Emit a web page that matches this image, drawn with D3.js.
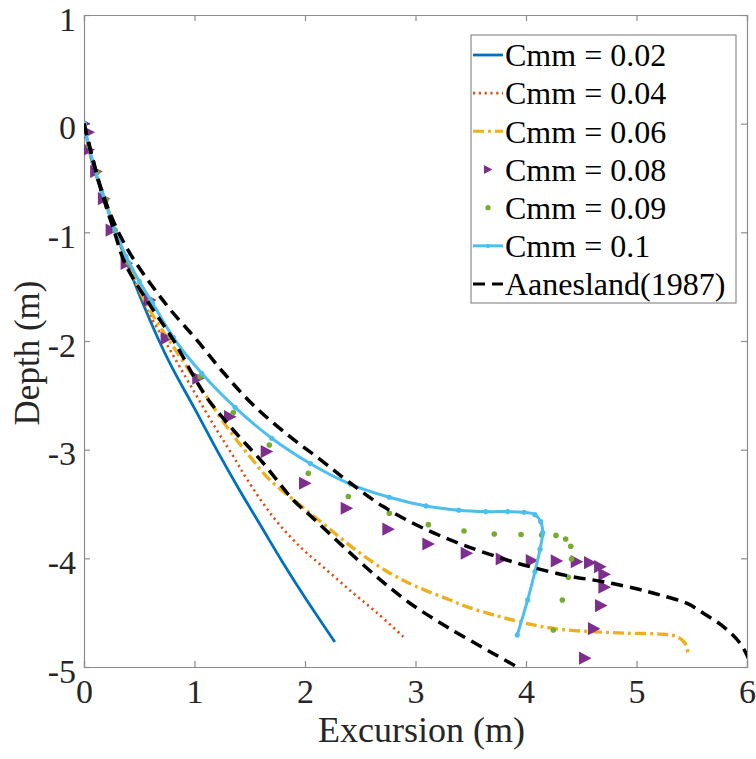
<!DOCTYPE html>
<html>
<head>
<meta charset="utf-8">
<script src="https://cdn.jsdelivr.net/npm/d3@7"></script>
<style>
  body { margin: 0; background: #fff; }
</style>
</head>
<body>
<svg id="chart" width="756" height="759"></svg>
<script>
// excursion (m), depth (m) pairs
let cmm002 = [[0, 0], [0.085, -0.4], [0.19, -0.7], [0.28, -0.98], [0.37, -1.23], [0.46, -1.47], [0.56, -1.72],
  [0.68, -2.0], [0.8, -2.25], [1.0, -2.62], [1.2, -3.0], [1.4, -3.36], [1.6, -3.7], [1.8, -4.04],
  [2.0, -4.36], [2.27, -4.77]]
let cmm004 = [[0, 0], [0.085, -0.4], [0.19, -0.7], [0.28, -0.98], [0.37, -1.22], [0.46, -1.44], [0.58, -1.73],
  [0.76, -2.05], [0.97, -2.42], [1.19, -2.8], [1.35, -3.06], [1.48, -3.28], [1.71, -3.617], [1.955, -3.893],
  [2.196, -4.107], [2.437, -4.321], [2.65, -4.5], [2.89, -4.721]]
let cmm006 = [[0, 0], [0.085, -0.4], [0.19, -0.7], [0.28, -0.98], [0.37, -1.22], [0.46, -1.43], [0.58, -1.69],
  [0.808, -2.052], [1.05, -2.42], [1.291, -2.788], [1.502, -3.064], [1.683, -3.279], [1.955, -3.509],
  [2.196, -3.708], [2.468, -3.93], [2.769, -4.137], [3.011, -4.261], [3.312, -4.383], [3.463, -4.445],
  [3.765, -4.537], [4.066, -4.613], [4.308, -4.653], [4.609, -4.675], [4.911, -4.689], [5.243, -4.699],
  [5.364, -4.721], [5.439, -4.781], [5.469, -4.889]]
let cmm008 = [[0, 0], [0.04, -0.08], [0.04, -0.24], [0.11, -0.44], [0.18, -0.69], [0.25, -0.98], [0.386, -1.285],
  [0.597, -1.622], [0.748, -1.975], [1.034, -2.343], [1.321, -2.696], [1.653, -3.018], [2.0, -3.309],
  [2.377, -3.539], [2.754, -3.732], [3.116, -3.868], [3.463, -3.953], [3.78, -4.006], [4.052, -4.021],
  [4.278, -4.024], [4.459, -4.031], [4.579, -4.04], [4.67, -4.077], [4.709, -4.147], [4.709, -4.265],
  [4.679, -4.435], [4.615, -4.647], [4.534, -4.919]]
let cmm009 = [[0, 0], [0.04, -0.2], [0.12, -0.45], [0.2, -0.7], [0.28, -0.98], [0.4, -1.28], [0.6, -1.62],
  [0.78, -1.96], [1.05, -2.328], [1.351, -2.659], [1.677, -2.957], [2.03, -3.217], [2.392, -3.431],
  [2.763, -3.585], [3.116, -3.69], [3.439, -3.748], [3.713, -3.776], [3.955, -3.78], [4.142, -3.785],
  [4.271, -3.789], [4.359, -3.822], [4.405, -3.889], [4.412, -4.006], [4.383, -4.174], [4.329, -4.383],
  [4.247, -4.659]]
let cmm010 = [[0, 0], [0.02, -0.1], [0.08, -0.35], [0.16, -0.62], [0.26, -0.93], [0.38, -1.22], [0.5, -1.45],
  [0.62, -1.65], [0.808, -1.966], [1.065, -2.297], [1.367, -2.61], [1.699, -2.895], [2.05, -3.129],
  [2.41, -3.317], [2.763, -3.438], [3.095, -3.518], [3.391, -3.557], [3.635, -3.57], [3.834, -3.57],
  [3.982, -3.576], [4.081, -3.598], [4.133, -3.662], [4.151, -3.764], [4.127, -3.916], [4.081, -4.122],
  [4.015, -4.383], [3.921, -4.705]]
// Aanesland (1987): upper and lower bound curves
let aaneslandUpper = [[0, 0], [0.14, -0.55], [0.28, -0.93], [0.42, -1.2], [0.6, -1.47], [0.78, -1.71],
  [1.02, -1.99], [1.261, -2.29], [1.532, -2.589], [1.864, -2.88], [2.15, -3.1], [2.4, -3.3],
  [2.709, -3.524], [3.071, -3.723], [3.433, -3.877], [3.825, -4.015], [4.036, -4.077], [4.4, -4.165],
  [4.7, -4.215], [5.0, -4.28], [5.213, -4.337], [5.454, -4.413], [5.605, -4.505], [5.786, -4.629],
  [5.937, -4.781], [6.027, -4.951], [6.05, -5.02]]
let aaneslandLower = [[0, 0], [0.145, -0.58], [0.27, -0.98], [0.371, -1.285], [0.567, -1.622], [0.808, -1.99],
  [1.095, -2.497], [1.351, -2.819], [1.623, -3.125], [1.894, -3.463], [2.075, -3.632], [2.347, -3.892],
  [2.649, -4.169], [2.95, -4.413], [3.282, -4.629], [3.674, -4.859], [3.916, -4.997]]

let xTicks = [0, 1, 2, 3, 4, 5, 6]
let yTicks = [1, 0, -1, -2, -3, -4, -5]
let legendLabels = ['Cmm = 0.02', 'Cmm = 0.04', 'Cmm = 0.06', 'Cmm = 0.08', 'Cmm = 0.09', 'Cmm = 0.1', 'Aanesland(1987)']

let series = [
  { data: cmm002, color: '#0072BD', type: 'line', width: 2.8 },
  { data: cmm004, color: '#D95319', type: 'line', width: 2.6, dash: '2.2,3.6' },
  { data: cmm006, color: '#EDB120', type: 'line', width: 3.4, dash: '11,4,3,4' },
  { data: cmm008, color: '#7E2F8E', type: 'triangle' },
  { data: cmm009, color: '#77AC30', type: 'dot' },
  { data: cmm010, color: '#4DBEEE', type: 'line', width: 3, marker: true },
  { data: [aaneslandUpper, aaneslandLower], color: '#000', type: 'multi', width: 3.5, dash: '12,7' },
]

let serif = '"Liberation Serif", "Times New Roman", "DejaVu Serif", serif'
let svg = d3.select('#chart').attr('font-family', serif)
let plot = { left: 84, top: 15, right: 747, bottom: 667 }
let x = d3.scaleLinear().domain([0, 6]).range([plot.left, plot.right])
let y = d3.scaleLinear().domain([-5, 1]).range([plot.bottom, plot.top])
let axisColor = '#8c8c8c'

svg.append('defs').append('clipPath').attr('id', 'clip')
  .append('rect')
  .attr('x', plot.left).attr('y', plot.top)
  .attr('width', plot.right - plot.left).attr('height', plot.bottom - plot.top)

// axes: box with inward ticks on all four sides
let tickLen = 6
let xAxis = svg.append('g').attr('transform', `translate(0,${plot.bottom})`)
  .call(d3.axisBottom(x).tickValues(xTicks).tickSize(-tickLen).tickPadding(12).tickFormat(d3.format('d')))
let xAxisTop = svg.append('g').attr('transform', `translate(0,${plot.top})`)
  .call(d3.axisTop(x).tickValues(xTicks).tickSize(-tickLen).tickFormat(''))
let yAxis = svg.append('g').attr('transform', `translate(${plot.left},0)`)
  .call(d3.axisLeft(y).tickValues(yTicks).tickSize(-tickLen).tickPadding(8).tickFormat(d => d < 0 ? '-' + Math.abs(d) : d))
let yAxisRight = svg.append('g').attr('transform', `translate(${plot.right},0)`)
  .call(d3.axisRight(y).tickValues(yTicks).tickSize(-tickLen).tickFormat(''))

for (let ax of [xAxis, xAxisTop, yAxis, yAxisRight]) {
  ax.attr('font-family', serif).attr('font-size', 34)
  ax.selectAll('path.domain').attr('stroke', axisColor).attr('stroke-width', 1.2)
  ax.selectAll('.tick line').attr('stroke', axisColor).attr('stroke-width', 1.2)
  ax.selectAll('.tick text').attr('fill', '#262626')
}
xAxis.selectAll('.tick text').attr('dy', '0.71em')
yAxis.selectAll('.tick text').attr('dy', '0.45em')

// axis titles
svg.append('text')
  .attr('x', (plot.left + plot.right) / 2 + 6).attr('y', 742)
  .attr('text-anchor', 'middle').attr('fill', '#262626')
  .attr('font-size', 36)
  .text('Excursion (m)')
svg.append('text')
  .attr('transform', `translate(39,${(plot.top + plot.bottom) / 2 + 12}) rotate(-90)`)
  .attr('text-anchor', 'middle').attr('fill', '#262626')
  .attr('font-size', 35)
  .text('Depth (m)')

let layer = svg.append('g').attr('clip-path', 'url(#clip)')
let line = d3.line().x(d => x(d[0])).y(d => y(d[1])).curve(d3.curveCatmullRom.alpha(0.5))
let triangle = s => `M${-s * 0.5},${-s * 0.55}L${s * 0.55},0L${-s * 0.5},${s * 0.55}Z`

series.forEach(s => {
  if (s.type === 'line' || s.type === 'multi') {
    let curves = s.type === 'multi' ? s.data : [s.data]
    curves.forEach(c => {
      layer.append('path')
        .attr('d', line(c))
        .attr('fill', 'none')
        .attr('stroke', s.color)
        .attr('stroke-width', s.width)
        .attr('stroke-dasharray', s.dash || null)
        .attr('stroke-linejoin', 'round')
    })
    if (s.marker) {
      layer.selectAll(null).data(s.data).join('circle')
        .attr('cx', d => x(d[0])).attr('cy', d => y(d[1]))
        .attr('r', 2.6).attr('fill', s.color)
    }
  } else if (s.type === 'triangle') {
    layer.selectAll(null).data(s.data).join('path')
      .attr('transform', d => `translate(${x(d[0])},${y(d[1])})`)
      .attr('d', triangle(12))
      .attr('fill', s.color)
  } else if (s.type === 'dot') {
    layer.selectAll(null).data(s.data).join('circle')
      .attr('cx', d => x(d[0])).attr('cy', d => y(d[1]))
      .attr('r', 2.8).attr('fill', s.color)
  }
})

// legend
let lg = svg.append('g')
lg.append('rect')
  .attr('x', 471).attr('y', 35).attr('width', 265).attr('height', 268)
  .attr('fill', '#fff').attr('stroke', axisColor).attr('stroke-width', 1.2)
let rowY = d3.scaleLinear().domain([0, 6]).range([55, 284])
series.forEach((s, i) => {
  let cy = rowY(i)
  if (s.type === 'triangle') {
    lg.append('path').attr('transform', `translate(488,${cy})`).attr('d', triangle(8)).attr('fill', s.color)
  } else if (s.type === 'dot') {
    lg.append('circle').attr('cx', 488).attr('cy', cy).attr('r', 2.6).attr('fill', s.color)
  } else {
    lg.append('line')
      .attr('x1', 473).attr('x2', 503).attr('y1', cy).attr('y2', cy)
      .attr('stroke', s.color).attr('stroke-width', Math.min(s.width, 3))
      .attr('stroke-dasharray', s.dash || null)
    if (s.marker) lg.append('circle').attr('cx', 488).attr('cy', cy).attr('r', 2.2).attr('fill', s.color)
  }
  lg.append('text')
    .attr('x', 505).attr('y', cy).attr('dy', '0.35em')
    .attr('fill', '#000')
    .attr('font-size', 32)
    .text(legendLabels[i])
})
</script>
</body>
</html>
